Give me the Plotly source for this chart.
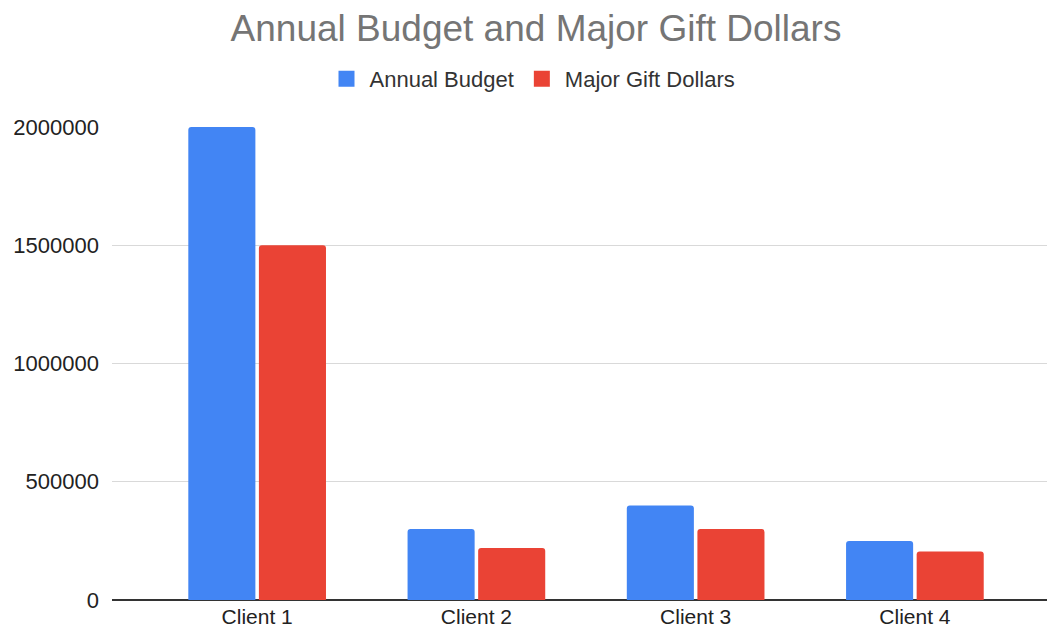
import plotly.graph_objects as go

categories = ["Client 1", "Client 2", "Client 3", "Client 4"]
annual_budget = [2000000, 300000, 400000, 250000]
major_gift = [1500000, 220000, 300000, 205000]
y_ticks = [0, 500000, 1000000, 1500000, 2000000]
y_tick_labels = ["0", "500000", "1000000", "1500000", "2000000"]

series_names = ["Annual Budget", "Major Gift Dollars"]
series_colors = ["#4285F4", "#EA4335"]

FONT = "Liberation Sans, Arial, sans-serif"

# page body has an 8px margin, so the figure is drawn 8px smaller
W, H = 1047, 623

fig = go.Figure()
for name, vals, col in zip(series_names, [annual_budget, major_gift], series_colors):
    fig.add_trace(go.Bar(name=name, x=categories, y=vals, showlegend=False,
                         marker=dict(color=col, cornerradius=3, line=dict(width=0))))
# legend entries with square swatches
for name, col in zip(series_names, series_colors):
    fig.add_trace(go.Scatter(name=name, x=[None], y=[None], mode="markers",
                             marker=dict(symbol="square", size=16, color=col),
                             showlegend=True))

fig.update_layout(
    width=W, height=H,
    paper_bgcolor="white", plot_bgcolor="white",
    margin=dict(l=104, r=0, t=119, b=31),
    barmode="group", bargap=0.356, bargroupgap=0.05,
    font=dict(family=FONT, size=22, color="#444444"),
    title=dict(text="Annual Budget and Major Gift Dollars", x=(536 - 8) / W, xanchor="center",
               xref="container", yref="container", y=1 - 20 / H, yanchor="middle",
               font=dict(family=FONT, size=37, color="#757575")),
    legend=dict(orientation="h", xref="container", x=(532 - 8) / W, xanchor="center",
                yref="container", y=1 - 71 / H, yanchor="middle",
                font=dict(family=FONT, size=22, color="#333333"),
                itemwidth=36, traceorder="normal"),
    xaxis=dict(range=[-0.662, 3.639], showgrid=False, ticks="", showline=False,
               ticklabelstandoff=2, automargin=False,
               tickfont=dict(family=FONT, size=21, color="#222222")),
    yaxis=dict(range=[0, 2000000], tickvals=y_ticks, ticktext=y_tick_labels,
               showgrid=True, gridcolor="#d9d9d9", gridwidth=1,
               zeroline=True, zerolinecolor="#333333", zerolinewidth=2,
               ticks="", ticklabelstandoff=12, automargin=False,
               tickfont=dict(family=FONT, size=22, color="#222222")),
)

fig.write_html("out.html")
